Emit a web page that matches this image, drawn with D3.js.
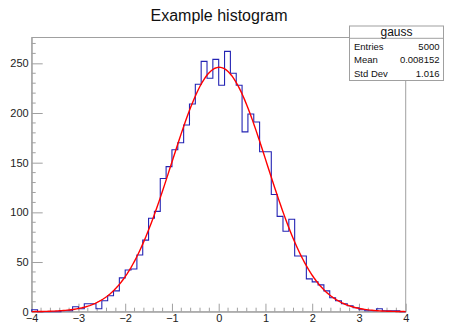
<!DOCTYPE html>
<html>
<head>
<meta charset="utf-8">
<script src="https://cdn.jsdelivr.net/npm/d3@7"></script>
<style>
  body { margin: 0; background: #fff; }
  text { font-family: "Liberation Sans", Arial, Helvetica, sans-serif; }
</style>
</head>
<body>
<svg id="chart"></svg>
<script>
// histogram "gauss": 64 bins from -4 to 4
const xRange = [-4, 4];
const binCounts = [
  2, 0, 0, 0, 0, 1, 1, 5, 3, 8, 8, 3, 11, 16, 21, 34,
  42, 43, 57, 72, 94, 101, 134, 146, 163, 170, 188, 209, 229, 252, 235, 254,
  228, 262, 240, 228, 181, 199, 191, 161, 161, 118, 96, 81, 93, 56, 56, 33,
  30, 27, 21, 14, 11, 8, 6, 4, 2, 1, 1, 3, 1, 1, 1, 0
];
// gaus fit: constant, mean, sigma
const fitParams = [246, 0.01, 1.02];
const xTicks = [-4, -3, -2, -1, 0, 1, 2, 3, 4];
const yTicks = [0, 50, 100, 150, 200, 250];
const statsLabels = ['Entries', 'Mean', 'Std Dev'];
const statsValues = ['5000', '0.008152', '1.016'];

const width = 451, height = 324;
const frame = { left: 31.7, right: 405.7, top: 37.5, bottom: 311.7 };
const lineGray = '#a0a0a0';

const svg = d3.select('#chart')
    .attr('width', width)
    .attr('height', height);

const x = d3.scaleLinear().domain(xRange).range([frame.left, frame.right]);
const y = d3.scaleLinear().domain([0, 276]).range([frame.bottom, frame.top]);

// frame
svg.append('rect')
    .attr('x', frame.left)
    .attr('y', frame.top)
    .attr('width', frame.right - frame.left)
    .attr('height', frame.bottom - frame.top)
    .attr('fill', 'none')
    .attr('stroke', lineGray)
    .attr('stroke-width', 1);

// minor ticks
const xMinor = d3.range(-4, 4.001, 0.2).filter(v => Math.abs(v - Math.round(v)) > 1e-6);
const yMinor = d3.range(0, 276, 10).filter(v => v % 50 !== 0);

svg.append('g')
    .selectAll('line')
    .data(xMinor)
    .join('line')
    .attr('x1', d => x(d)).attr('x2', d => x(d))
    .attr('y1', frame.bottom).attr('y2', frame.bottom - 4)
    .attr('stroke', lineGray);

svg.append('g')
    .selectAll('line')
    .data(yMinor)
    .join('line')
    .attr('y1', d => y(d)).attr('y2', d => y(d))
    .attr('x1', frame.left).attr('x2', frame.left + 4)
    .attr('stroke', lineGray);

// major axes
const xAxis = svg.append('g')
    .attr('transform', `translate(0,${frame.bottom})`)
    .call(d3.axisBottom(x).tickValues(xTicks).tickSizeInner(-8).tickSizeOuter(0).tickPadding(3));
const yAxis = svg.append('g')
    .attr('transform', `translate(${frame.left},0)`)
    .call(d3.axisLeft(y).tickValues(yTicks).tickSizeInner(-11).tickSizeOuter(0).tickPadding(3));

[xAxis, yAxis].forEach(g => {
  g.select('.domain').attr('stroke', lineGray);
  g.selectAll('.tick line').attr('stroke', lineGray);
  g.selectAll('.tick text')
      .attr('fill', '#222')
      .style('font-size', '11px')
      .style('font-family', '"Liberation Sans", Arial, sans-serif');
});

// histogram outline
const binW = (xRange[1] - xRange[0]) / binCounts.length;
const pts = [[xRange[0], 0]];
binCounts.forEach((c, i) => {
  pts.push([xRange[0] + i * binW, c]);
});
pts.push([xRange[1], binCounts[binCounts.length - 1]]);
pts.push([xRange[1], 0]);

const stepLine = d3.line()
    .x(d => x(d[0]))
    .y(d => y(d[1]))
    .curve(d3.curveStepAfter);

svg.append('path')
    .datum(pts)
    .attr('d', stepLine)
    .attr('fill', 'none')
    .attr('stroke', '#2424b4')
    .attr('stroke-width', 1.1);

// fit curve
const [fA, fMu, fSig] = fitParams;
const fitPts = d3.range(0, 201).map(i => {
  const v = xRange[0] + i * (xRange[1] - xRange[0]) / 200;
  return [v, fA * Math.exp(-0.5 * ((v - fMu) / fSig) ** 2)];
});
svg.append('path')
    .datum(fitPts)
    .attr('d', d3.line().x(d => x(d[0])).y(d => y(d[1])))
    .attr('fill', 'none')
    .attr('stroke', '#ff0000')
    .attr('stroke-width', 1.4);

// title
svg.append('text')
    .attr('x', 219)
    .attr('y', 21)
    .attr('text-anchor', 'middle')
    .attr('fill', '#111')
    .style('font-size', '16px')
    .text('Example histogram');

// stats box
const box = { x: 349.5, y: 26, w: 94, h: 54.5, head: 12.3 };
const stats = svg.append('g');
stats.append('rect')
    .attr('x', box.x).attr('y', box.y)
    .attr('width', box.w).attr('height', box.h)
    .attr('fill', '#fff')
    .attr('stroke', lineGray);
stats.append('line')
    .attr('x1', box.x).attr('x2', box.x + box.w)
    .attr('y1', box.y + box.head).attr('y2', box.y + box.head)
    .attr('stroke', lineGray);
stats.append('text')
    .attr('x', box.x + box.w / 2)
    .attr('y', box.y + 10)
    .attr('text-anchor', 'middle')
    .attr('fill', '#111')
    .style('font-size', '12px')
    .text('gauss');
statsLabels.forEach((lab, i) => {
  const yy = box.y + 24 + i * 13.3;
  stats.append('text')
      .attr('x', box.x + 4.5).attr('y', yy)
      .attr('fill', '#111')
      .style('font-size', '9.5px')
      .text(lab);
  stats.append('text')
      .attr('x', box.x + box.w - 4).attr('y', yy)
      .attr('text-anchor', 'end')
      .attr('fill', '#111')
      .style('font-size', '9.5px')
      .text(statsValues[i]);
});
</script>
</body>
</html>
